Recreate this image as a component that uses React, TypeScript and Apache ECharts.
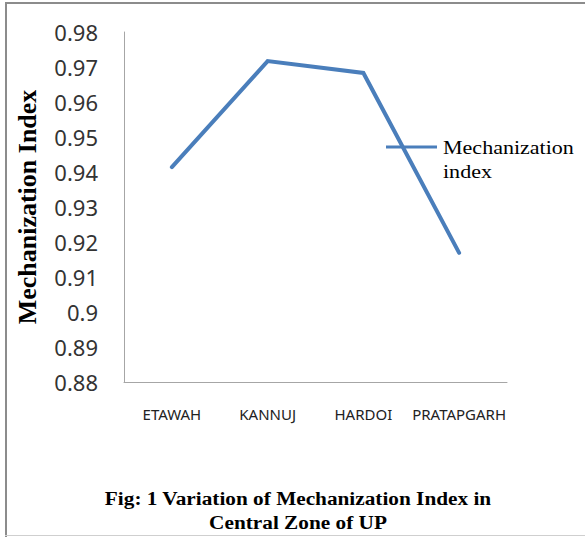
import React, { useEffect, useRef } from "react";
import * as echarts from "echarts";

const categories = ["ETAWAH", "KANNUJ", "HARDOI", "PRATAPGARH"];
const mechanizationIndex = [0.9414, 0.9717, 0.9683, 0.9169];
const seriesName = "Mechanization index";
const yAxisTitle = "Mechanization Index";
const captionLines = ["Fig: 1 Variation of Mechanization Index in", "Central Zone of UP"];

export default function App() {
  const ref = useRef<HTMLDivElement>(null);
  useEffect(() => {
    if (!ref.current) return;
    const chart = echarts.init(ref.current, null, { renderer: "svg" });
    const color = "#4A7EBB";
    chart.setOption({
      animation: false,
      backgroundColor: "#ffffff",
      grid: { left: 124, top: 32, width: 383, height: 350, containLabel: false },
      xAxis: {
        type: "category",
        data: categories,
        boundaryGap: true,
        axisLine: { lineStyle: { color: "#a6a6a6", width: 1 } },
        axisTick: { show: false },
        axisLabel: {
          margin: 24,
          fontSize: 15,
          color: "#222",
          fontFamily: "Noto Sans",
          interval: 0,
        },
      },
      yAxis: {
        type: "value",
        min: 0.88,
        max: 0.98,
        interval: 0.01,
        axisLine: { show: true, lineStyle: { color: "#a6a6a6", width: 1 } },
        axisTick: { show: false },
        splitLine: { show: false },
        axisLabel: {
          margin: 26,
          fontSize: 22,
          color: "#333",
          fontFamily: "Noto Sans",
          formatter: (v: number) => String(parseFloat(v.toFixed(2))),
        },
      },
      series: [
        {
          name: seriesName,
          type: "line",
          data: mechanizationIndex,
          symbol: "none",
          lineStyle: { color, width: 4, cap: "round", join: "miter" },
          itemStyle: { color },
        },
      ],
      graphic: [
        { type: "line", shape: { x1: 5, y1: 3, x2: 585, y2: 3 }, style: { stroke: "#8c8c8c", lineWidth: 2 } },
        { type: "line", shape: { x1: 6, y1: 3, x2: 6, y2: 537 }, style: { stroke: "#8c8c8c", lineWidth: 2 } },
        { type: "line", shape: { x1: 5, y1: 535.5, x2: 585, y2: 535.5 }, style: { stroke: "#cfcfcf", lineWidth: 1 } },
        {
          type: "text",
          x: 27,
          y: 207,
          rotation: Math.PI / 2,
          style: {
            text: yAxisTitle,
            font: "bold 26px 'Liberation Serif'",
            fill: "#000",
            align: "center",
            verticalAlign: "middle",
          },
        },
        { type: "line", shape: { x1: 386, y1: 147, x2: 437, y2: 147 }, style: { stroke: color, lineWidth: 3 } },
        {
          type: "text",
          x: 443,
          y: 136,
          scaleX: 1.16,
          style: {
            text: "Mechanization\nindex",
            font: "19px 'Liberation Serif'",
            lineHeight: 24,
            fill: "#000",
            align: "left",
            verticalAlign: "top",
          },
        },
        {
          type: "text",
          x: 298,
          y: 498,
          scaleX: 1.12,
          style: {
            text: captionLines[0],
            font: "bold 19px 'Liberation Serif'",
            fill: "#000",
            align: "center",
            verticalAlign: "middle",
          },
        },
        {
          type: "text",
          x: 298,
          y: 522,
          scaleX: 1.12,
          style: {
            text: captionLines[1],
            font: "bold 19px 'Liberation Serif'",
            fill: "#000",
            align: "center",
            verticalAlign: "middle",
          },
        },
      ],
    });
    return () => chart.dispose();
  }, []);
  return (
    <div
      ref={ref}
      style={{ position: "fixed", left: 0, top: 0, width: 585, height: 537 }}
    />
  );
}
